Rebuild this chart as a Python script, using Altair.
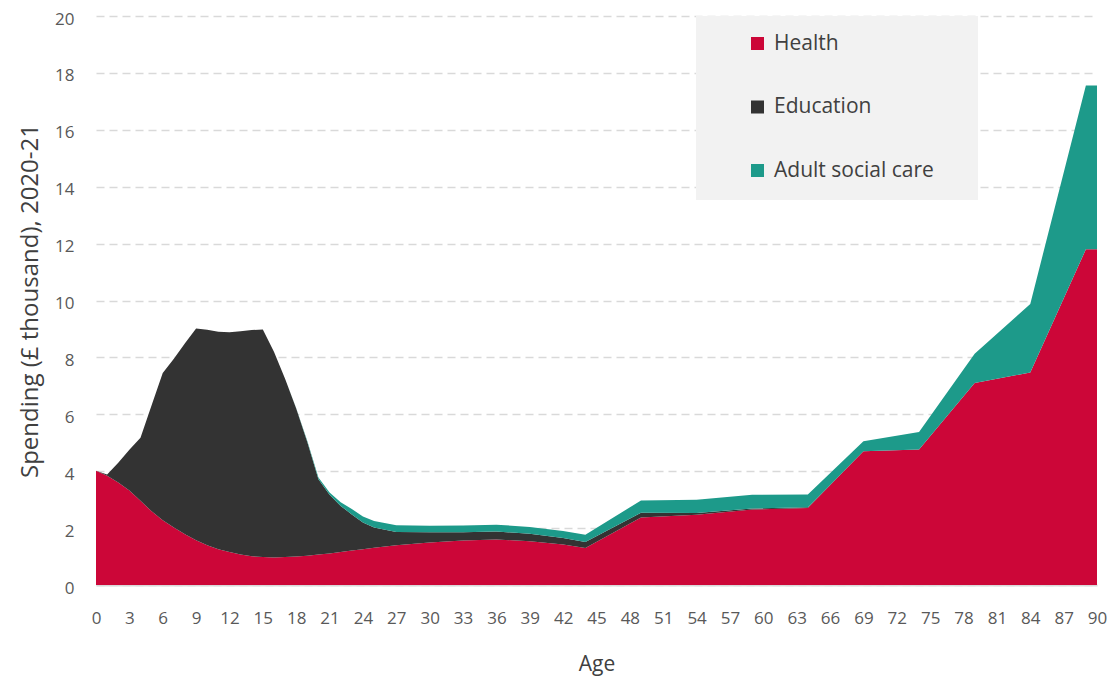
import altair as alt
import pandas as pd

ages = [0, 1, 2, 3, 4, 5, 6, 7, 8, 9, 10, 11, 12, 13, 14, 15, 16, 17, 18, 19,
        20, 21, 22, 23, 24, 25, 27, 30, 33, 36, 39, 42, 44, 49, 54, 59, 64,
        69, 74, 79, 84, 89, 90]

health = [4.02, 3.84, 3.60, 3.32, 2.96, 2.59, 2.28, 2.02, 1.78, 1.57, 1.40,
          1.26, 1.16, 1.07, 1.01, 0.98, 0.97, 0.98, 1.00, 1.03, 1.07, 1.11,
          1.16, 1.21, 1.26, 1.31, 1.40, 1.49, 1.56, 1.60, 1.54, 1.42, 1.30,
          2.37, 2.47, 2.65, 2.71, 4.70, 4.76, 7.10, 7.47, 11.80, 11.80]

education = [0.0, 0.04, 0.70, 1.43, 2.22, 3.73, 5.17, 5.93, 6.72, 7.45, 7.57,
             7.64, 7.72, 7.85, 7.95, 8.00, 7.23, 6.27, 5.20, 4.00, 2.65, 2.06,
             1.62, 1.27, 0.94, 0.71, 0.46, 0.36, 0.29, 0.28, 0.26, 0.23, 0.21,
             0.17, 0.06, 0.04, 0.02, 0.0, 0.0, 0.0, 0.0, 0.0, 0.0]

social_care = [0.0, 0.0, 0.0, 0.0, 0.0, 0.0, 0.0, 0.0, 0.0, 0.0, 0.0, 0.0,
               0.0, 0.0, 0.0, 0.0, 0.0, 0.0, 0.01, 0.03, 0.06, 0.08, 0.13,
               0.19, 0.21, 0.23, 0.24, 0.23, 0.24, 0.24, 0.24, 0.25, 0.26,
               0.43, 0.47, 0.48, 0.45, 0.35, 0.62, 1.03, 2.41, 5.76, 5.76]

categories = ["Health", "Education", "Adult social care"]
colors = ["#CC0638", "#333333", "#1D9A8A"]
x_ticks = list(range(0, 91, 3))
y_ticks = list(range(0, 21, 2))

rows = []
for rank, (cat, vals) in enumerate(zip(categories, [health, education, social_care])):
    for a, v in zip(ages, vals):
        rows.append({"Age": a, "Spending": v, "Category": cat, "rank": rank})
df = pd.DataFrame(rows)

FONT = "Open Sans"

legend_box = alt.Chart(pd.DataFrame({"a": [0]})).mark_rect(
    color="#F2F2F2"
).encode(
    x=alt.value(600), x2=alt.value(882), y=alt.value(0), y2=alt.value(184)
)

area = alt.Chart(df).mark_area(interpolate="linear").encode(
    x=alt.X("Age:Q",
            scale=alt.Scale(domain=[0, 90], nice=False, zero=False),
            axis=alt.Axis(values=x_ticks, title="Age", grid=False, ticks=False,
                          domain=True, domainColor="#D9D9D9", domainWidth=2,
                          labelPadding=25, labelFontSize=17, labelColor="#595959",
                          labelFont=FONT, titleFont=FONT, titleFontSize=21,
                          titleFontWeight="normal", titleColor="#404040",
                          titlePadding=27, labelFlush=False)),
    y=alt.Y("Spending:Q", stack="zero",
            scale=alt.Scale(domain=[0, 20], nice=False),
            axis=alt.Axis(values=y_ticks, title="Spending (£ thousand), 2020-21",
                          grid=True, gridDash=[8, 5], gridColor="#D9D9D9",
                          gridWidth=1.5, domain=False, ticks=False,
                          labelPadding=22, labelFontSize=17, labelColor="#595959",
                          labelOffset=3,
                          labelFont=FONT, titleFont=FONT, titleFontSize=24,
                          titleFontWeight="normal", titleColor="#404040",
                          titlePadding=12)),
    color=alt.Color("Category:N",
                    scale=alt.Scale(domain=categories, range=colors),
                    legend=alt.Legend(title=None, orient="none", legendX=651,
                                      legendY=17, symbolType="square",
                                      symbolSize=169, symbolStrokeWidth=0,
                                      symbolOpacity=1,
                                      labelFontSize=21, labelFont=FONT,
                                      labelColor="#404040", labelOffset=6,
                                      rowPadding=41.5, padding=0)),
    order=alt.Order("rank:Q", sort="ascending"),
)

chart = alt.layer(legend_box, area).properties(
    width=1001, height=569,
    autosize=alt.AutoSizeParams(type="none"),
    padding={"left": 88, "top": 8, "right": 12, "bottom": 96},
).configure_view(stroke=None)

chart.save("out.html", embed_options={"renderer": "svg", "actions": False})
